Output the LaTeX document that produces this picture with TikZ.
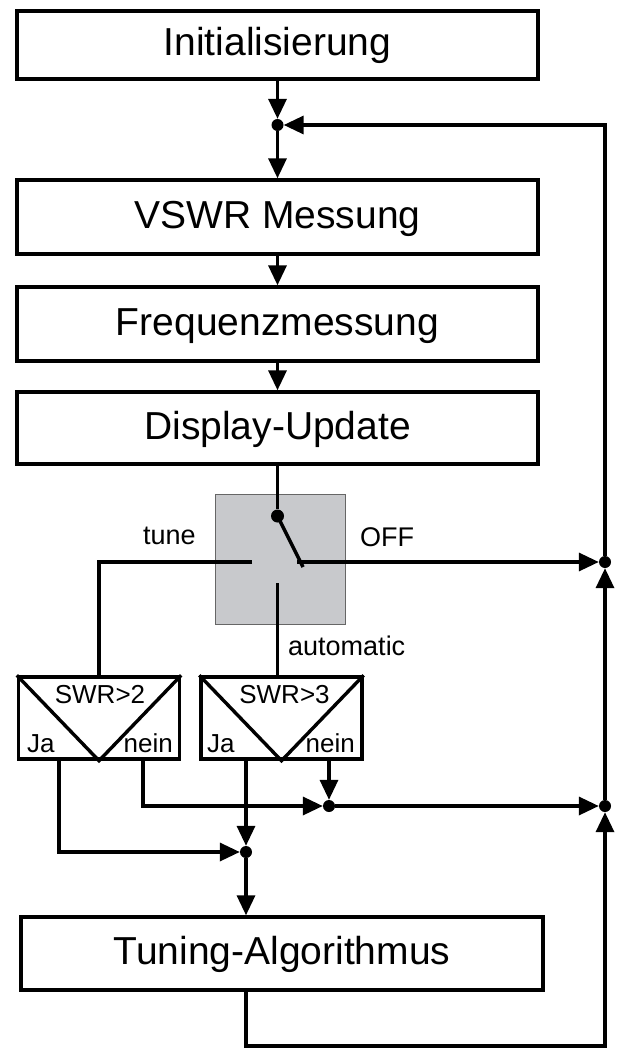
\documentclass[tikz,border=0pt]{standalone}
\usepackage{fontspec}
\setmainfont{Liberation Sans}
\usetikzlibrary{arrows.meta}

\begin{document}
\begin{tikzpicture}[x=1pt, y=-1pt,
    flow/.style={-{Triangle[length=20pt, width=18pt]}, line width=3.4pt},
    wire/.style={line width=3.4pt, line join=miter},
    stepbox/.style={draw, line width=3.4pt, minimum width=521pt, inner sep=0pt,
      text height=29pt, text depth=7pt, font=\fontsize{39}{44}\selectfont},
    decide/.style={draw, line width=3.4pt, minimum width=161pt, minimum height=82pt, inner sep=0pt},
    junc/.style={circle, fill, inner sep=0pt, minimum size=12pt},
    lbl/.style={inner sep=0pt, font=\fontsize{27}{30}\selectfont},
    small/.style={inner sep=0pt, font=\fontsize{26}{28}\selectfont},
  ]
  \useasboundingbox (0,0) rectangle (616,1051);

  % ---- main chain ----
  \node[stepbox, minimum height=68pt] (init) at (277.5,45) {Initialisierung};
  \node[junc] (jtop) at (277.5,125) {};
  \node[stepbox, minimum height=74pt] (vswr) at (277.5,217) {VSWR Messung};
  \node[stepbox, minimum height=74pt] (freq) at (277.5,324) {Frequenzmessung};
  \node[stepbox, minimum height=72pt] (disp) at (277.5,428) {Display-Update};

  \draw[flow] (init) -- (jtop);
  \draw[flow] (jtop) -- (vswr);
  \draw[flow] (vswr) -- (freq);
  \draw[flow] (freq) -- (disp);

  % ---- mode switch ----
  \node[draw=black!60, line width=0.8pt, fill={rgb,255:red,200;green,201;blue,204},
    minimum width=130pt, minimum height=130pt] (switch) at (280,559) {};
  \node[circle, fill, inner sep=0pt, minimum size=13pt] (pivot) at (277.5,516) {};
  \coordinate (arm) at (303,567);
  \coordinate (ctune) at (252,562);
  \coordinate (coff) at (297,562);
  \coordinate (cauto) at (277.5,583);
  \draw[wire] (disp) -- (pivot);
  \draw[wire] (pivot.center) -- (arm);

  \node[lbl, anchor=base west] (ltune) at (143,544) {tune};
  \node[lbl, anchor=base west] (loff) at (360,546) {OFF};
  \node[lbl, anchor=base west] (lauto) at (288,655) {automatic};

  % ---- SWR decisions ----
  \node[decide] (dec1) at (99,718) {};
  \node[decide] (dec2) at (281.5,718) {};
  \foreach \d in {dec1, dec2}
    \draw[wire] (\d.north west) -- (\d.south) -- (\d.north east);

  \node[small, anchor=base] (swr1) at (100,703) {SWR>2};
  \node[small, anchor=base] (swr2) at (284.5,703) {SWR>3};
  \node[small, anchor=base west] (ja1) at (27,752) {Ja};
  \node[small, anchor=base east] (nein1) at (173,752) {nein};
  \node[small, anchor=base west] (ja2) at (207,752) {Ja};
  \node[small, anchor=base east] (nein2) at (355,752) {nein};

  \draw[wire] (ctune) -| (dec1.north);
  \draw[wire] (cauto) -- (cauto |- dec2.north);

  % ---- junctions ----
  \node[junc] (joff) at (605,562) {};
  \node[junc] (jright) at (605,806) {};
  \node[junc] (jnein) at (329,806) {};
  \node[junc] (jja) at (246,852) {};

  \coordinate (oja1) at (59,759);
  \coordinate (onein1) at (143,759);
  \coordinate (oja2) at (246,759);
  \coordinate (onein2) at (329,759);

  \draw[flow] (oja1) |- (jja);
  \draw[flow] (onein1) |- (jnein);
  \draw[flow] (oja2) -- (jja);
  \draw[flow] (onein2) -- (jnein);
  \draw[flow] (jnein) -- (jright);
  \draw[flow] (coff) -- (joff);

  % ---- tuning and feedback ----
  \node[stepbox, minimum width=522pt, minimum height=73pt] (tuning) at (282,953.5) {Tuning-Algorithmus};
  \coordinate (cbottom) at (246,1046);
  \draw[flow] (jja) -- (jja |- tuning.north);
  \draw[flow] (jja |- tuning.south) -- (cbottom) -| (jright);
  \draw[flow] (jright) -- (joff);
  \draw[flow] (joff) |- (jtop);

\end{tikzpicture}
\end{document}
